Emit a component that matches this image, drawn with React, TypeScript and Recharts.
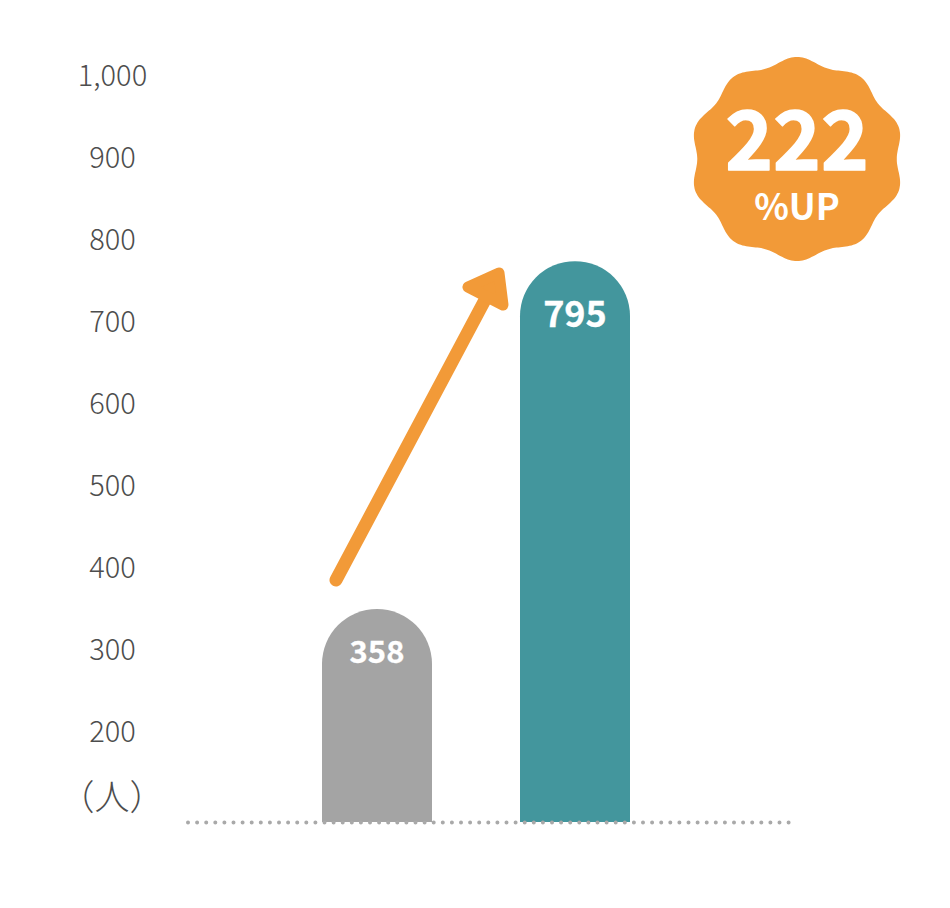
import { ComposedChart, Bar, Line, Cell, XAxis, YAxis, LabelList, Customized } from 'recharts'

const years = ['before', 'after']
const people = [358, 795]
const barColors = ['#a4a4a4', '#43969d']
const tickValues = [200, 300, 400, 500, 600, 700, 800, 900, 1000]
const badgeValue = '222'
const badgeUnit = '%UP'
const unitLabel = '（人）'

const data = years.map((name, i) => ({ name, people: people[i] }))

const FONT = '"Noto Sans CJK JP", "Noto Sans", sans-serif'
const ORANGE = '#f29a38'

function AxisTick({ y, payload }: { y?: number; payload?: { value: number } }) {
  return (
    <text x={112.5} y={y} dy={10} textAnchor="middle" fontFamily={FONT} fontSize={29} fontWeight={300} fill="#4d4d4d">
      {payload?.value.toLocaleString('en-US')}
    </text>
  )
}

function BarValue({ x, y, width, value, index }: any) {
  const big = index === 1
  return (
    <text
      x={x + width / 2}
      y={y + (big ? 66 : 54)}
      textAnchor="middle"
      fontFamily={FONT}
      fontSize={big ? 36 : 31}
      fontWeight={700}
      fill="#fff"
      stroke="#fff"
      strokeWidth={0.3}
    >
      {value}
    </text>
  )
}

function badgePath(cx: number, cy: number) {
  const pts: string[] = []
  for (let i = 0; i < 360; i++) {
    const t = (i * Math.PI) / 180
    const r = 98.5 + 3.5 * Math.cos(10 * t)
    pts.push(`${(cx + 1.05 * r * Math.sin(t)).toFixed(1)},${(cy - r * Math.cos(t)).toFixed(1)}`)
  }
  return `M${pts.join('L')}Z`
}

function Annotations() {
  return (
    <g>
      <line x1={336} y1={580} x2={486} y2={298} stroke={ORANGE} strokeWidth={13} strokeLinecap="round" />
      <polygon points="468,287 499,273 503,305" fill={ORANGE} stroke={ORANGE} strokeWidth={11} strokeLinejoin="round" />
      <path d={badgePath(797, 159)} fill={ORANGE} />
      <text x={797} y={170} textAnchor="middle" fontFamily={FONT} fontSize={81} fontWeight={700} fill="#fff" stroke="#fff" strokeWidth={1.5} strokeLinejoin="round">
        {badgeValue}
      </text>
      <text x={797} y={220} textAnchor="middle" fontFamily={FONT} fontSize={36} fontWeight={700} fill="#fff">
        {badgeUnit}
      </text>
      <text x={112} y={810} textAnchor="middle" fontFamily={FONT} fontSize={35} fontWeight={300} fill="#4d4d4d">
        {unitLabel}
      </text>
    </g>
  )
}

export default function App() {
  return (
    <div style={{ position: 'absolute', left: 0, top: 0 }}>
      <ComposedChart
        width={950}
        height={908}
        data={data}
        barSize={110}
        margin={{ top: 76, right: 160, bottom: 85, left: 0 }}
      >
        <XAxis
          dataKey="name"
          height={1}
          tick={false}
          tickLine={false}
          padding={{ left: 92, right: 116 }}
          axisLine={{ stroke: '#a9a9a9', strokeWidth: 4, strokeDasharray: '0 9.1', strokeLinecap: 'round', transform: 'translate(2 0.5)' }}
        />
        <YAxis
          yAxisId="scale"
          width={186}
          domain={[90, 1000]}
          ticks={tickValues}
          interval={0}
          axisLine={false}
          tickLine={false}
          tick={<AxisTick />}
        />
        <YAxis yAxisId="bars" hide orientation="right" domain={[90.4, 1027.6]} />
        {/* the printed axis does not line up with the bars, so it gets its own scale */}
        <Line yAxisId="scale" dataKey="people" stroke="none" dot={false} activeDot={false} isAnimationActive={false} />
        <Bar yAxisId="bars" dataKey="people" radius={[55, 55, 0, 0]} isAnimationActive={false}>
          {data.map((d, i) => (
            <Cell key={d.name} fill={barColors[i]} />
          ))}
          <LabelList dataKey="people" content={<BarValue />} />
        </Bar>
        <Customized component={Annotations} />
      </ComposedChart>
    </div>
  )
}
